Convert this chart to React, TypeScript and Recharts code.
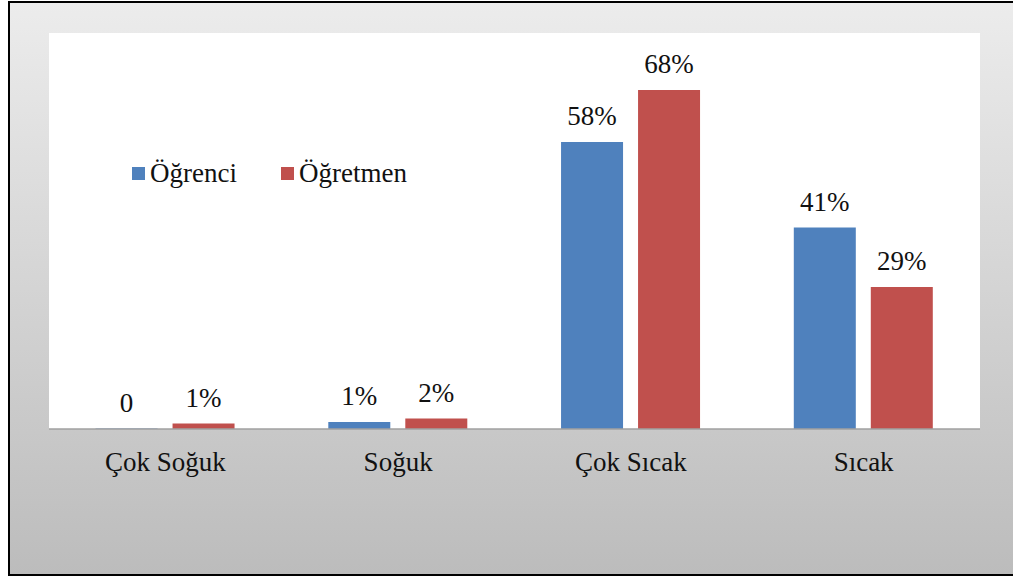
import React from 'react';
import { BarChart, Bar, XAxis, YAxis, CartesianGrid, LabelList } from 'recharts';

const categories = ['Çok Soğuk', 'Soğuk', 'Çok Sıcak', 'Sıcak'];
const ogrenciValues = [0, 1.4, 58, 40.7];
const ogretmenValues = [1.1, 2.1, 68.5, 28.7];
const ogrenciLabels = ['0', '1%', '58%', '41%'];
const ogretmenLabels = ['1%', '2%', '68%', '29%'];
const seriesNames = ['Öğrenci', 'Öğretmen'];
const seriesColors = ['#4f81bd', '#c0504d'];

const data = categories.map((c, i) => ({
  category: c,
  ogrenci: ogrenciValues[i],
  ogretmen: ogretmenValues[i],
  ogrenciLabel: ogrenciLabels[i],
  ogretmenLabel: ogretmenLabels[i],
}));

const FONT = '"Times New Roman", "Liberation Serif", Tinos, "Noto Serif", "DejaVu Serif", Georgia, serif';

const renderLabel = (props: any) => {
  const { x, y, width, value } = props;
  return (
    <text
      x={Number(x) + Number(width) / 2}
      y={Number(y) - 17}
      textAnchor="middle"
      fill="#111"
      fontSize={27}
      fontFamily={FONT}
    >
      {value}
    </text>
  );
};

export default function App() {
  return (
    <div style={{ position: 'absolute', left: 0, top: 0, width: 1013, height: 578, overflow: 'hidden' }}>
      <div
        style={{
          position: 'absolute',
          left: 8,
          top: 1,
          width: 1015,
          height: 575,
          boxSizing: 'border-box',
          border: '2px solid #000',
          background: 'linear-gradient(#ececec, #bcbcbc)',
        }}
      />
      <div style={{ position: 'absolute', left: 0, top: 0 }}>
        <BarChart
          width={1013}
          height={578}
          data={data}
          margin={{ top: 33, right: 33, bottom: 89, left: 49 }}
          barCategoryGap="20%"
          barGap={15}
        >
          <CartesianGrid horizontal={false} vertical={false} fill="#ffffff" stroke="none" />
          <YAxis hide domain={[0, 80]} />
          <Bar dataKey="ogrenci" name={seriesNames[0]} fill={seriesColors[0]} minPointSize={0.5} isAnimationActive={false}>
            <LabelList dataKey="ogrenciLabel" content={renderLabel} />
          </Bar>
          <Bar dataKey="ogretmen" name={seriesNames[1]} fill={seriesColors[1]} isAnimationActive={false}>
            <LabelList dataKey="ogretmenLabel" content={renderLabel} />
          </Bar>
          <XAxis
            dataKey="category"
            height={60}
            tickLine={false}
            tickSize={0}
            tickMargin={23}
            axisLine={{ stroke: '#a0a0a0', strokeWidth: 1.5 }}
            tick={{ fill: '#111', fontSize: 27, fontFamily: FONT }}
            interval={0}
          />
        </BarChart>
      </div>
      <div
        style={{
          position: 'absolute',
          left: 132,
          top: 158,
          display: 'flex',
          alignItems: 'center',
          fontFamily: FONT,
          fontSize: 27,
          color: '#111',
        }}
      >
        {seriesNames.map((n, i) => (
          <div key={n} style={{ display: 'flex', alignItems: 'center', marginRight: i === 0 ? 44 : 0 }}>
            <span style={{ display: 'inline-block', width: 13, height: 13, background: seriesColors[i], marginRight: 5 }} />
            <span>{n}</span>
          </div>
        ))}
      </div>
    </div>
  );
}
